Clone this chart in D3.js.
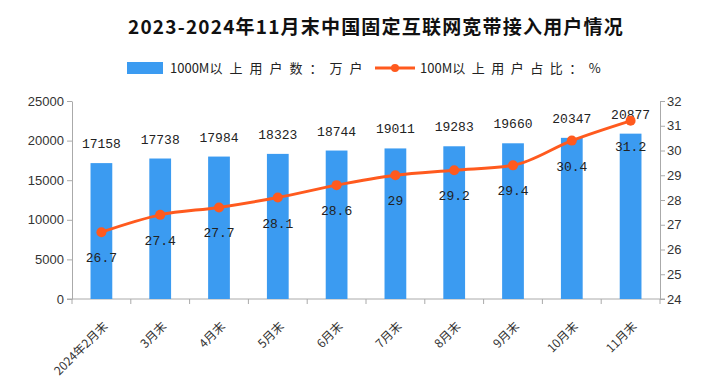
<!DOCTYPE html>
<html>
<head>
<meta charset="utf-8">
<script src="https://d3js.org/d3.v7.min.js"></script>
<style>
  body { margin: 0; background: #fff; }
</style>
</head>
<body>
<svg id="chart"></svg>
<script>
// data
const months = ["2024年2月末", "3月末", "4月末", "5月末", "6月末", "7月末", "8月末", "9月末", "10月末", "11月末"];
const users1000M = [17158, 17738, 17984, 18323, 18744, 19011, 19283, 19660, 20347, 20877];
const share100M = [26.7, 27.4, 27.7, 28.1, 28.6, 29, 29.2, 29.4, 30.4, 31.2];
const leftTicks = [0, 5000, 10000, 15000, 20000, 25000];
const rightTicks = [24, 25, 26, 27, 28, 29, 30, 31, 32];

const width = 723, height = 388;
const margin = { top: 101, right: 63, bottom: 89, left: 72 };
const w = width - margin.left - margin.right;
const h = height - margin.top - margin.bottom;

const barColor = "#3b9bf1";
const lineColor = "#ff5a1e";
const axisColor = "#aaa";
const cjk = "'Noto Sans CJK SC', sans-serif";
const mono = "'Liberation Mono', 'DejaVu Sans Mono', monospace";

const svg = d3.select("#chart").attr("width", width).attr("height", height)
  .style("font-family", cjk);

// title
svg.append("text")
  .attr("x", 376).attr("y", 34)
  .attr("text-anchor", "middle")
  .style("font-size", "19px").style("font-weight", "bold")
  .style("letter-spacing", "1.2px")
  .attr("fill", "#111")
  .text("2023-2024年11月末中国固定互联网宽带接入用户情况");

// legend
const lg = svg.append("g").style("font-size", "13px").attr("fill", "#222");
lg.append("rect").attr("x", 127).attr("y", 62).attr("width", 36).attr("height", 12).attr("fill", barColor);
const t1 = lg.append("text").attr("x", 170).attr("y", 72.5);
t1.append("tspan").text("1000M");
t1.append("tspan").style("letter-spacing", "7px").text("以上用户数：万户");
lg.append("line").attr("x1", 375).attr("x2", 415).attr("y1", 68).attr("y2", 68)
  .attr("stroke", lineColor).attr("stroke-width", 3);
lg.append("circle").attr("cx", 395).attr("cy", 68).attr("r", 4).attr("fill", lineColor);
const t2 = lg.append("text").attr("x", 420).attr("y", 72.5);
t2.append("tspan").text("100M");
t2.append("tspan").style("letter-spacing", "6.5px").text("以上用户占比：%");

const g = svg.append("g").attr("transform", `translate(${margin.left},${margin.top})`);

const x = d3.scaleBand().domain(months).range([0, w]).paddingInner(0.63).paddingOuter(0.315);
const yL = d3.scaleLinear().domain([0, 25000]).range([h, 0]);
const yR = d3.scaleLinear().domain([24, 32]).range([h, 0]);

// left axis
const axL = g.append("g")
  .call(d3.axisLeft(yL).tickValues(leftTicks).tickFormat(d3.format("d")).tickSize(5).tickSizeOuter(0));
// right axis
const axR = g.append("g").attr("transform", `translate(${w},0)`)
  .call(d3.axisRight(yR).tickValues(rightTicks).tickSize(5).tickSizeOuter(0));
// bottom axis with ticks between categories
const axB = g.append("g").attr("transform", `translate(0,${h})`);
axB.append("line").attr("x1", -5).attr("x2", w + 5).attr("stroke", axisColor);
axB.selectAll(".sep").data(d3.range(months.length + 1)).join("line")
  .attr("x1", i => i * w / months.length).attr("x2", i => i * w / months.length)
  .attr("y1", 0).attr("y2", 5).attr("stroke", axisColor);

[axL, axR].forEach(a => {
  a.select(".domain").attr("stroke", axisColor);
  a.selectAll(".tick line").attr("stroke", axisColor);
  a.selectAll(".tick text").attr("fill", "#333")
    .style("font-size", "13px")
    .style("font-family", "'Liberation Sans', Arial, sans-serif");
});
axL.selectAll(".tick text").attr("x", -8);
axR.selectAll(".tick text").attr("x", 7);

// x labels
axB.selectAll(".lab").data(months).join("text")
  .attr("transform", d => `translate(${x(d) + x.bandwidth() / 2 + 4},${25}) rotate(-45)`)
  .attr("text-anchor", "end")
  .attr("dy", "0.35em")
  .style("font-size", "12px").attr("fill", "#333")
  .text(d => d);

// bars
g.selectAll(".bar").data(users1000M).join("rect")
  .attr("x", (d, i) => x(months[i]))
  .attr("y", d => yL(d))
  .attr("width", x.bandwidth())
  .attr("height", d => h - yL(d))
  .attr("fill", barColor);

g.selectAll(".barlab").data(users1000M).join("text")
  .attr("x", (d, i) => x(months[i]) + x.bandwidth() / 2)
  .attr("y", d => yL(d) - 15)
  .attr("text-anchor", "middle")
  .style("font-size", "13px").style("font-family", mono)
  .attr("fill", "#222")
  .text(d => d);

// line
const cx = i => x(months[i]) + x.bandwidth() / 2;
const line = d3.line().x((d, i) => cx(i)).y(d => yR(d)).curve(d3.curveMonotoneX);
g.append("path").datum(share100M)
  .attr("d", line).attr("fill", "none")
  .attr("stroke", lineColor).attr("stroke-width", 3);
g.selectAll(".pt").data(share100M).join("circle")
  .attr("cx", (d, i) => cx(i)).attr("cy", d => yR(d)).attr("r", 5)
  .attr("fill", lineColor);
g.selectAll(".ptlab").data(share100M).join("text")
  .attr("x", (d, i) => cx(i))
  .attr("y", d => yR(d) + 30)
  .attr("text-anchor", "middle")
  .style("font-size", "13px").style("font-family", mono)
  .attr("fill", "#222")
  .text(d => d);
</script>
</body>
</html>
